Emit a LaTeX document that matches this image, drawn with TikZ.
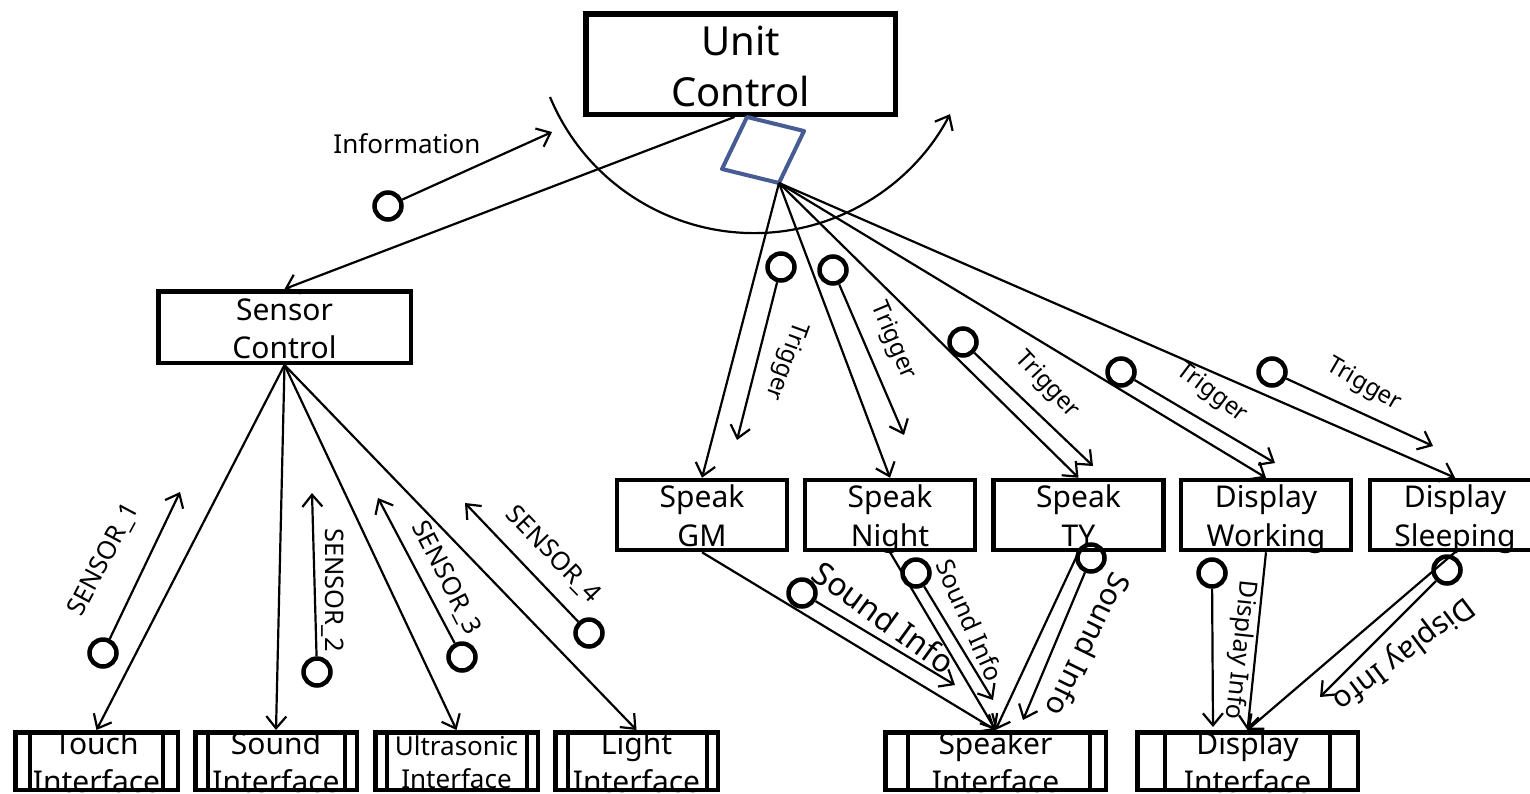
\documentclass[tikz,border=0pt]{standalone}
\usepackage{fontspec}
\setmainfont{Noto Sans}
\usetikzlibrary{arrows.meta,calc}
\definecolor{portblue}{RGB}{72,92,148}
\tikzset{
  wire/.style={line width=2.2pt},
  arrowed/.style={wire,-{Straight Barb[length=12pt,width=20pt]}},
  couple/.style={circle,draw,line width=4.5pt,minimum size=27pt,inner sep=0pt},
  procbox/.style={draw,line width=4.5pt,inner sep=0pt,minimum width=170pt,minimum height=70pt},
  ifbox/.style={draw,line width=4.5pt,inner sep=0pt,minimum height=57.5pt},
  sidebar/.style={line width=4.5pt},
  portline/.style={draw=portblue,line width=4pt,line join=round},
  boxtext/.style={inner sep=0pt,anchor=base,font=\fontsize{#1}{#1}\selectfont},
  boxtext/.default=30,
  flowtext/.style={inner sep=0pt,font=\fontsize{#1}{#1}\selectfont},
}
% the two inner bars of an interface box: node, left offset, right offset
\newcommand\ifbars[3]{%
  \draw[sidebar] ($(#1.north west)+(#2,0)$) -- ($(#1.south west)+(#2,0)$);
  \draw[sidebar] ($(#1.north east)+(-#3,0)$) -- ($(#1.south east)+(-#3,0)$);}
\begin{document}
\begin{tikzpicture}[x=1pt,y=-1pt]
\useasboundingbox (0,0) rectangle (1530,793);
\fill[white] (0,0) rectangle (1530,793);
\clip (0,0) rectangle (1530,793);

% ---------- Unit Control and its port ----------
\node[boxtext=40] (uc-a) at (740.5,55) {Unit};
\node[boxtext=40] (uc-b) at (740.5,106) {Control};
\node[draw,line width=5.5pt,inner sep=0pt,minimum width=309.5pt,minimum height=100.5pt] (uc) at (740.5,64) {};
\coordinate (dia-n) at (747,117);
\coordinate (dia-e) at (804,131);
\coordinate (dia-s) at (779,183);
\coordinate (dia-w) at (722,169);
\draw[portline] (dia-n) -- (dia-e) -- (dia-s) -- (dia-w) -- cycle;

% iteration arc
\coordinate (arc-a) at (550,97);
\draw[arrowed] (arc-a) arc[start angle=202.6,end angle=332.5,radius=221pt];

% ---------- Sensor Control ----------
\node[boxtext] (sc-a) at (284.5,320) {Sensor};
\node[boxtext] (sc-b) at (284.5,358) {Control};
\node[draw,line width=4.5pt,inner sep=0pt,minimum width=252.5pt,minimum height=71.5pt] (sc) at (284.5,327) {};

% ---------- action modules ----------
\node[boxtext] (gm-a) at (702,507) {Speak};
\node[boxtext] (gm-b) at (702,546) {GM};
\node[procbox] (gm) at (702,515) {};
\node[boxtext] (nt-a) at (890,507) {Speak};
\node[boxtext] (nt-b) at (890,546) {Night};
\node[procbox] (nt) at (890,515) {};
\node[boxtext] (ty-a) at (1078.5,507) {Speak};
\node[boxtext] (ty-b) at (1078.5,546) {TY};
\node[procbox] (ty) at (1078.5,515) {};
\node[boxtext] (dw-a) at (1266,507) {Display};
\node[boxtext] (dw-b) at (1266,546) {Working};
\node[procbox] (dw) at (1266,515) {};
\node[boxtext] (ds-a) at (1455,507) {Display};
\node[boxtext] (ds-b) at (1455,546) {Sleeping};
\node[procbox] (ds) at (1455,515) {};

% ---------- interface modules ----------
\node[boxtext] (touch-a) at (96.5,754) {Touch};
\node[boxtext] (touch-b) at (96.5,792) {Interface};
\node[ifbox,minimum width=162.5pt] (touch) at (96.5,761) {};
\ifbars{touch}{17}{17}
\node[boxtext] (sound-a) at (276,754) {Sound};
\node[boxtext] (sound-b) at (276,792) {Interface};
\node[ifbox,minimum width=161.5pt] (sound) at (276,761) {};
\ifbars{sound}{15}{14}
\node[boxtext=26] (ultra-a) at (456.5,755) {Ultrasonic};
\node[boxtext=26] (ultra-b) at (456.5,788) {Interface};
\node[ifbox,minimum width=162.5pt] (ultra) at (456.5,761) {};
\ifbars{ultra}{14}{13}
\node[boxtext] (light-a) at (636.5,754) {Light};
\node[boxtext] (light-b) at (636.5,792) {Interface};
\node[ifbox,minimum width=162.5pt] (light) at (636.5,761) {};
\ifbars{light}{15}{13}
\node[boxtext] (spk-a) at (995.5,754) {Speaker};
\node[boxtext] (spk-b) at (995.5,792) {Interface};
\node[ifbox,minimum width=220.5pt] (spk) at (995.5,761) {};
\ifbars{spk}{25}{18}
\node[boxtext] (disp-a) at (1247.5,754) {Display};
\node[boxtext] (disp-b) at (1247.5,792) {Interface};
\node[ifbox,minimum width=220.5pt] (disp) at (1247.5,761) {};
\ifbars{disp}{30}{30}

% ---------- calls ----------
\draw[arrowed] ($(uc.south)+(-6,0)$) -- (sc.north);
\foreach \m in {gm,nt,ty,dw,ds}
  \draw[arrowed] (dia-s) -- (\m.north);
\foreach \m in {touch,sound,ultra,light}
  \draw[arrowed] (sc.south) -- (\m.north);
\foreach \m in {gm,nt,ty}
  \draw[arrowed] (\m.south) -- (spk.north);
\foreach \m in {dw,ds}
  \draw[arrowed] (\m.south) -- (disp.north);

% ---------- data couples ----------
\node[couple] (c-info) at (388,206) {};
\coordinate (e-info) at (552,132);
\draw[arrowed] (c-info) -- (e-info);
\node[flowtext=26] (t-info) at (407,144) {Information};

\node[couple] (c-s1) at (103,653) {};
\coordinate (e-s1) at (180,492);
\draw[arrowed] (c-s1) -- (e-s1);
\node[flowtext=25.5,rotate=62] (t-s1) at (104,560) {SENSOR\_1};

\node[couple] (c-s2) at (317,672) {};
\coordinate (e-s2) at (312,493);
\draw[arrowed] (c-s2) -- (e-s2);
\node[flowtext=25.5,rotate=-90] (t-s2) at (333,590) {SENSOR\_2};

\node[couple] (c-s3) at (462,657) {};
\coordinate (e-s3) at (378,498);
\draw[arrowed] (c-s3) -- (e-s3);
\node[flowtext=25.5,rotate=-63] (t-s3) at (446,578) {SENSOR\_3};

\node[couple] (c-s4) at (589,633) {};
\coordinate (e-s4) at (465,503);
\draw[arrowed] (c-s4) -- (e-s4);
\node[flowtext=25.5,rotate=-46] (t-s4) at (553,555) {SENSOR\_4};

\node[couple] (c-t1) at (781,267) {};
\coordinate (e-t1) at (737,440);
\draw[arrowed] (c-t1) -- (e-t1);
\node[flowtext=24,rotate=-110] (t-t1) at (786,361) {Trigger};

\node[couple] (c-t2) at (833,270) {};
\coordinate (e-t2) at (904,435);
\draw[arrowed] (c-t2) -- (e-t2);
\node[flowtext=24,rotate=-67] (t-t2) at (893,341) {Trigger};

\node[couple] (c-t3) at (963,342) {};
\coordinate (e-t3) at (1093,466);
\draw[arrowed] (c-t3) -- (e-t3);
\node[flowtext=24,rotate=-47] (t-t3) at (1047,385) {Trigger};

\node[couple] (c-t4) at (1121,372) {};
\coordinate (e-t4) at (1275,463);
\draw[arrowed] (c-t4) -- (e-t4);
\node[flowtext=24,rotate=-37] (t-t4) at (1212,393) {Trigger};

\node[couple] (c-t5) at (1272,372) {};
\coordinate (e-t5) at (1433,446);
\draw[arrowed] (c-t5) -- (e-t5);
\node[flowtext=24,rotate=-30] (t-t5) at (1364,385) {Trigger};

\node[couple] (c-si1) at (802,593) {};
\coordinate (e-si1) at (955,685);
\draw[arrowed] (c-si1) -- (e-si1);
\node[flowtext=32,rotate=-36] (t-si1) at (884,617) {Sound Info};

\node[couple] (c-si2) at (916,573) {};
\coordinate (e-si2) at (993,700);
\draw[arrowed] (c-si2) -- (e-si2);
\node[flowtext=25,rotate=-66] (t-si2) at (970,620) {Sound Info};

\node[couple] (c-si3) at (1091,558) {};
\coordinate (e-si3) at (1023,720);
\draw[arrowed] (c-si3) -- (e-si3);
\node[flowtext=30,rotate=-116] (t-si3) at (1089,645) {Sound Info};

\node[couple] (c-di4) at (1212,573) {};
\coordinate (e-di4) at (1213,727);
\draw[arrowed] (c-di4) -- (e-di4);
\node[flowtext=25,rotate=-96] (t-di4) at (1240,650) {Display Info};

\node[couple] (c-di5) at (1447,570) {};
\coordinate (e-di5) at (1320,697);
\draw[arrowed] (c-di5) -- (e-di5);
\node[flowtext=30,rotate=-143] (t-di5) at (1403,653) {Display Info};
\end{tikzpicture}
\end{document}
